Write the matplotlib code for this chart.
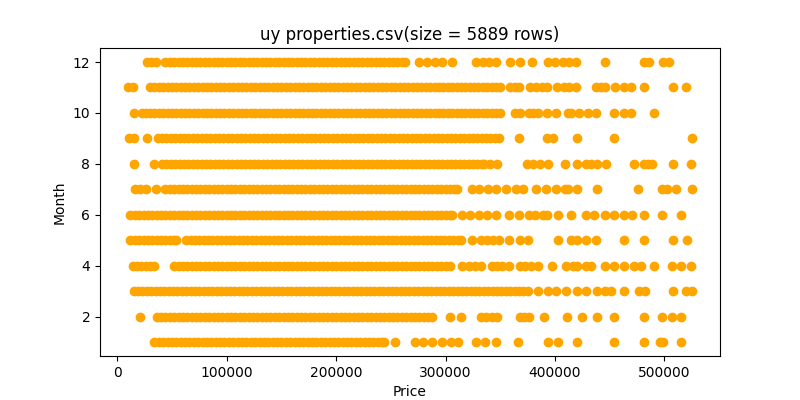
# Scatter of price vs month for the uy properties file
import matplotlib
matplotlib.use("Agg")
import matplotlib.pyplot as plt

# prices in thousands, one list per month
# (the solid stretches are written as many overlapping points)
month_12 = [27, 31, 35,
            44, 48, 52, 56, 60, 64, 68, 72, 76, 80, 84, 88, 92, 96, 100, 104, 108, 112, 116, 120,
            124, 128, 132, 136, 140, 144, 148, 152, 156, 160, 164, 168, 172, 176, 180, 184, 188,
            192, 196, 200, 204, 208, 212, 216, 220, 224, 228, 232, 236, 240, 244, 248, 252, 256,
            260, 263,
            276, 283, 290, 297, 306, 328, 334, 340, 346, 359, 368, 379, 394, 400, 407, 413, 419,
            446, 481, 486, 499, 504]
month_11 = [10, 14,
            30, 34, 38, 42, 46, 50, 54, 58, 62, 66, 70, 74, 78, 82, 86, 90, 94, 98, 102, 106, 110,
            114, 118, 122, 126, 130, 134, 138, 142, 146, 150, 154, 158, 162, 166, 170, 174, 178,
            182, 186, 190, 194, 198, 202, 206, 210, 214, 218, 222, 226, 230, 234, 238, 242, 246,
            250, 254, 258, 262, 266, 270, 274, 278, 282, 286, 290, 294, 298, 302, 306, 310, 314,
            318, 322, 326, 330, 334, 338, 342, 346, 350,
            359, 363, 367, 377, 383, 388, 393, 402, 408, 413, 419, 437, 442, 446, 455, 463, 469,
            481, 508, 520]
month_10 = [15, 23, 26,
            30, 34, 38, 42, 46, 50, 54, 58, 62, 66, 70, 74, 78, 82, 86, 90, 94, 98, 102, 106, 110,
            114, 118, 122, 126, 130, 134, 138, 142, 146, 150, 154, 158, 162, 166, 170, 174, 178,
            182, 186, 190, 194, 198, 202, 206, 210, 214, 218, 222, 226, 230, 234, 238, 242, 246,
            250, 254, 258, 262, 266, 270, 274, 278, 282, 286, 290, 294, 298, 302, 306, 310, 314,
            318, 322, 326, 330, 334, 338, 342, 346, 350,
            363, 368, 376, 380, 384, 393, 401, 412, 415, 422, 430, 437, 454, 463, 469, 490]
month_9 = [11, 15, 27,
           37, 41, 45, 49, 53, 57, 61, 65, 69, 73, 77, 81, 85, 89, 93, 97, 101, 105, 109, 113, 117,
           121, 125, 129, 133, 137, 141, 145, 149, 153, 157, 161, 165, 169, 173, 177, 181, 185, 189,
           193, 197, 201, 205, 209, 213, 217, 221, 225, 229, 233, 237, 241, 245, 249, 253, 257, 261,
           265, 269, 273, 277, 281, 285, 289, 293, 297, 301, 305, 309, 313, 317, 321, 325, 329, 333,
           337, 341, 345, 349,
           367, 393, 398, 420, 454, 525]
month_8 = [15, 34,
           41, 45, 49, 53, 57, 61, 65, 69, 73, 77, 81, 85, 89, 93, 97, 101, 105, 109, 113, 117, 121,
           125, 129, 133, 137, 141, 145, 149, 153, 157, 161, 165, 169, 173, 177, 181, 185, 189, 193,
           197, 201, 205, 209, 213, 217, 221, 225, 229, 233, 237, 241, 245, 249, 253, 257, 261, 265,
           269, 273, 277, 281, 285, 289, 293, 297, 301, 305, 309, 313, 317, 321, 325, 329, 333, 335,
           341, 347, 374, 380, 386, 394, 409, 420, 428, 433, 438, 447, 472, 481, 485, 489, 508, 524]
month_7 = [16, 21, 26, 35,
           44, 48, 52, 56, 60, 64, 68, 72, 76, 80, 84, 88, 92, 96, 100, 104, 108, 112, 116, 120,
           124, 128, 132, 136, 140, 144, 148, 152, 156, 160, 164, 168, 172, 176, 180, 184, 188, 192,
           196, 200, 204, 208, 212, 216, 220, 224, 228, 232, 236, 240, 244, 248, 252, 256, 260, 264,
           268, 272, 276, 280, 284, 288, 292, 296, 300, 304, 308, 310,
           324, 331, 339, 346, 355, 364, 371, 383, 392, 401, 409, 412, 420, 438, 476, 498, 502,
           511, 525]
month_6 = [12, 16, 20, 24, 28, 32, 36, 40,
           44, 48, 52, 56, 60, 64, 68, 72, 76, 80, 84, 88, 92, 96, 100, 104, 108, 112, 116, 120,
           124, 128, 132, 136, 140, 144, 148, 152, 156, 160, 164, 168, 172, 176, 180, 184, 188, 192,
           196, 200, 204, 208, 212, 216, 220, 224, 228, 232, 236, 240, 244, 248, 252, 256, 260, 264,
           268, 272, 276, 280, 284, 288, 292, 296, 300, 304, 306,
           315, 322, 331, 338, 346, 358, 367, 376, 382, 389, 393, 403, 415, 428, 436, 446, 454,
           463, 470, 481, 498, 515]
month_5 = [12, 16, 20, 24, 28, 32, 36, 40, 44, 48, 52, 54,
           63, 67, 71, 75, 79, 83, 87, 91, 95, 99, 103, 107, 111, 115, 119, 123, 127, 131, 135, 139,
           143, 147, 151, 155, 159, 163, 167, 171, 175, 179, 183, 187, 191, 195, 199, 203, 207, 211,
           215, 219, 223, 227, 231, 235, 239, 243, 247, 251, 255, 259, 263, 267, 271, 275, 279, 283,
           287, 291, 295, 299, 303, 307, 311, 314,
           324, 332, 338, 343, 349, 358, 368, 375, 403, 415, 420, 428, 437, 463, 481, 508, 521]
month_4 = [14, 18, 22, 26, 30, 34,
           52, 56, 60, 64, 68, 72, 76, 80, 84, 88, 92, 96, 100, 104, 108, 112, 116, 120, 124, 128,
           132, 136, 140, 144, 148, 152, 156, 160, 164, 168, 172, 176, 180, 184, 188, 192, 196, 200,
           204, 208, 212, 216, 220, 224, 228, 232, 236, 240, 244, 248, 252, 256, 260, 264, 268, 272,
           276, 280, 284, 288, 292, 296, 300, 304,
           315, 321, 327, 332, 342, 347, 352, 358, 368, 373, 378, 384, 397, 410, 416, 420, 428,
           433, 446, 454, 463, 472, 479, 490, 507, 515, 524]
month_3 = [15, 19, 23, 27, 31, 35, 39, 43, 47, 51, 55, 59, 63, 67, 71, 75, 79, 83, 87, 91, 95, 99,
           103, 107, 111, 115, 119, 123, 127, 131, 135, 139, 143, 147, 151, 155, 159, 163, 167, 171,
           175, 179, 183, 187, 191, 195, 199, 203, 207, 211, 215, 219, 223, 227, 231, 235, 239, 243,
           247, 251, 255, 259, 263, 267, 271, 275, 279, 283, 287, 291, 295, 299, 303, 307, 311, 315,
           319, 323, 327, 331, 335, 339, 343, 347, 351, 355, 359, 363, 367, 371, 375,
           384, 394, 401, 410, 420, 428, 438, 446, 451, 463, 477, 482, 508, 520, 525]
month_2 = [21,
           36, 40, 44, 48, 52, 56, 60, 64, 68, 72, 76, 80, 84, 88, 92, 96, 100, 104, 108, 112, 116,
           120, 124, 128, 132, 136, 140, 144, 148, 152, 156, 160, 164, 168, 172, 176, 180, 184, 188,
           192, 196, 200, 204, 208, 212, 216, 220, 224, 228, 232, 236, 240, 244, 248, 252, 256, 260,
           264, 268, 272, 276, 280, 284, 288,
           304, 314, 332, 337, 342, 347, 368, 372, 376, 390, 411, 425, 438, 454, 481, 498, 507, 515]
month_1 = [34, 38, 42, 46, 50, 54, 58, 62, 66, 70, 74, 78, 82, 86, 90, 94, 98, 102, 106, 110, 114,
           118, 122, 126, 130, 134, 138, 142, 146, 150, 154, 158, 162, 166, 170, 174, 178, 182, 186,
           190, 194, 198, 202, 206, 210, 214, 218, 222, 226, 230, 234, 238, 242, 244,
           254, 272, 279, 288, 297, 305, 311, 328, 336, 346, 366, 394, 403, 420, 454, 481, 496,
           499, 515]

by_month = {1: month_1, 2: month_2, 3: month_3, 4: month_4, 5: month_5, 6: month_6,
            7: month_7, 8: month_8, 9: month_9, 10: month_10, 11: month_11, 12: month_12}

price = []
month = []
for m, vals in by_month.items():
    for v in vals:
        price.append(v * 1000)
        month.append(m)

fig = plt.figure(figsize=(8, 4), dpi=100)
plt.scatter(price, month, c="orange")
plt.xlabel("Price")
plt.ylabel("Month")
plt.title("uy properties.csv(size = 5889 rows)")
plt.savefig("out.png")
